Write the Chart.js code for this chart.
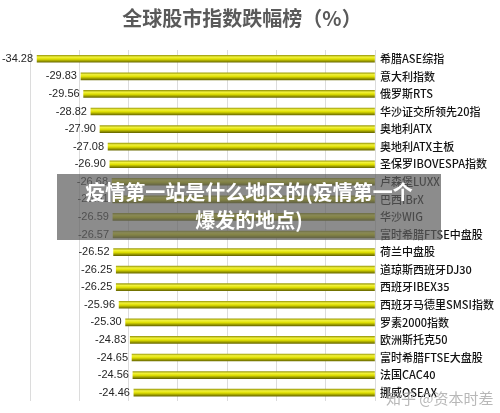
<!DOCTYPE html>
<html>
<head>
<meta charset="utf-8">
<script src="https://cdn.jsdelivr.net/npm/chart.js@4"></script>
<style>
    body { margin: 0; background: #fff; }
    #wrap { position: relative; width: 500px; height: 413px; }
    #banner {
        position: absolute; left: 57px; top: 174px; width: 384px; height: 66px;
        background: rgba(95, 95, 95, 0.72);
        color: #fff; font: bold 20px "Noto Sans CJK SC", sans-serif;
        text-align: center; line-height: 28px; padding-top: 4px; box-sizing: border-box;
    }
    #mark {
        position: absolute; left: 386px; top: 387px;
        color: rgba(160, 160, 160, 0.75); font: 15px "Noto Sans CJK SC", sans-serif;
    }
</style>
</head>
<body>
<div id="wrap">
    <canvas id="chart" width="500" height="413"></canvas>
    <div id="banner">疫情第一站是什么地区的(疫情第一个<br>爆发的地点)</div>
    <div id="mark">知乎 @资本时差</div>
</div>
<script>
// Data
const chartTitle = '全球股市指数跌幅榜（%）';
const indexNames = [
    '希腊ASE综指', '意大利指数', '俄罗斯RTS', '华沙证交所领先20指', '奥地利ATX',
    '奥地利ATX主板', '圣保罗IBOVESPA指数', '卢森堡LUXX', '巴西IBrX', '华沙WIG',
    '富时希腊FTSE中盘股', '荷兰中盘股', '道琼斯西班牙DJ30', '西班牙IBEX35', '西班牙马德里SMSI指数',
    '罗素2000指数', '欧洲斯托克50', '富时希腊FTSE大盘股', '法国CAC40', '挪威OSEAX'
];
const dropValues = [
    -34.28, -29.83, -29.56, -28.82, -27.90,
    -27.08, -26.90, -26.68, -26.61, -26.59,
    -26.57, -26.52, -26.25, -26.25, -25.96,
    -25.30, -24.83, -24.65, -24.56, -24.46
];
const axisMin = -35;
const axisMax = 0;
const axisStep = 5;

const BAR_H = 7;

// cylinder-like yellow fill per bar
function barFill(context) {
    const chart = context.chart;
    if (!chart.chartArea || context.dataIndex === undefined) return '#e0e000';
    const y = chart.scales.y.getPixelForValue(context.dataIndex);
    const g = chart.ctx.createLinearGradient(0, y - BAR_H / 2, 0, y + BAR_H / 2);
    g.addColorStop(0, '#a0a010');
    g.addColorStop(0.25, '#f2f23c');
    g.addColorStop(0.55, '#dede00');
    g.addColorStop(1, '#6c6c00');
    return g;
}

// Title drawn on canvas
const titlePlugin = {
    id: 'topTitle',
    afterDraw(chart) {
        const ctx = chart.ctx;
        ctx.save();
        ctx.font = 'bold 20px "Noto Sans CJK SC", sans-serif';
        ctx.fillStyle = '#5a5a5a';
        ctx.textAlign = 'center';
        ctx.textBaseline = 'middle';
        ctx.fillText(chartTitle, 242, 18);
        ctx.restore();
    }
};

// Value labels at the left end of each bar
const valueLabels = {
    id: 'valueLabels',
    afterDatasetsDraw(chart) {
        const ctx = chart.ctx;
        const meta = chart.getDatasetMeta(0);
        ctx.save();
        ctx.font = '11px "Liberation Sans", sans-serif';
        ctx.fillStyle = '#262626';
        ctx.textAlign = 'right';
        ctx.textBaseline = 'middle';
        meta.data.forEach((bar, i) => {
            ctx.fillText(dropValues[i].toFixed(2), bar.x - 4, bar.y);
        });
        ctx.restore();
    }
};

new Chart(document.getElementById('chart'), {
    type: 'bar',
    data: {
        labels: indexNames,
        datasets: [{
            data: dropValues,
            backgroundColor: barFill,
            borderWidth: 0,
            barThickness: BAR_H
        }]
    },
    options: {
        indexAxis: 'y',
        responsive: false,
        animation: false,
        layout: { padding: { left: 30, top: 50, bottom: 7, right: 0 } },
        plugins: {
            legend: { display: false },
            tooltip: { enabled: false },
            title: { display: false }
        },
        scales: {
            x: {
                min: axisMin,
                max: axisMax,
                ticks: { display: false, stepSize: axisStep },
                grid: { color: '#dcdcdc', drawTicks: false },
                border: { display: false }
            },
            y: {
                position: 'right',
                afterFit(scale) { scale.width = 125; },
                ticks: {
                    padding: 5,
                    color: '#111',
                    font: { family: '"Noto Sans CJK SC", sans-serif', size: 11, weight: '500' }
                },
                grid: { display: false, drawTicks: false },
                border: { display: false }
            }
        }
    },
    plugins: [titlePlugin, valueLabels]
});
</script>
</body>
</html>
